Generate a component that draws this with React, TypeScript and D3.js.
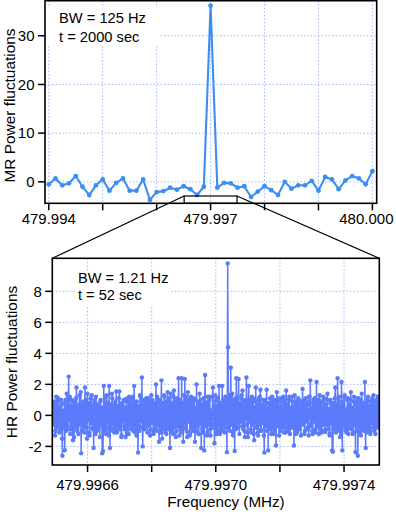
import React from "react";
import * as d3 from "d3";

// ---------- data ----------
// MR (medium resolution) spectrum: 125 Hz bins starting at 479.994 MHz
const mrStart = 479.994;
const mrStep = 0.000125;
const mrValues = [
  -0.5, 0.7, -0.7, -0.3, 1.2, -1.0, -2.7, -0.7, 0.5, -1.8,
  -0.2, 0.7, -1.8, -1.8, 0.5, -3.7, -2.1, -1.9, -1.2, -1.6,
  -0.9, -1.5, -2.7, -1.0, 36.2, -1.2, -0.2, -0.3, -1.2, -0.9,
  -3.1, -2.0, -0.9, -1.7, -2.7, 0.0, -1.4, -0.7, -0.7, 0.2,
  -1.8, 1.0, 0.5, -1.5, 0.3, 1.2, 0.7, -0.5, 2.2,
];
const mrTicks = [479.994, 479.995, 479.996, 479.997, 479.998, 479.999, 480.0];
const mrTickLabels = [479.994, 479.997, 480.0];
const mrYTicks = [0, 10, 20, 30];

// HR (high resolution) spectrum, evenly spaced bins across the zoomed window
const hrStart = 479.99649;
const hrEnd = 479.99751;
const hrValues = [
  0.1,-0.6, 0.8,-0.2, -0.4,0.9, 0.5,-1.3, -1.0,0.2, 1.2,-0.8, 0.3,0.6, -0.6,1.1, 0.9,-0.4, -1.1,0.5, 0.4,-0.9, -0.3,1.0, 0.7,-1.5, -2.6,0.3, 0.2,-0.5, -0.8,0.8, -2.25,-0.2, 1.0,-1.0, -0.5,1.4, 0.6,-0.7,
  -0.9,0.4, 2.5,-0.3, 0.1,1.2, -1.2,0.0, 0.6,-0.9, 1.0,0.5, -0.7,-1.6, 0.3,0.9, -1.4,0.2, 0.8,-0.6, -0.2,1.1, 1.8,-0.8, -1.0,0.4, 0.5,-1.2, -0.6,0.7, 1.3,-0.4, -0.1,1.5, -2.45,0.2, 0.7,-1.0, -0.4,0.6,
  0.9,-0.5, -1.1,0.3, 1.8,-0.7, 0.2,1.0, -0.8,-1.5, 1.4,0.1, -0.3,0.8, 0.6,-1.1, -1.3,0.5, 1.1,-0.2, -0.5,1.3, 0.4,-0.8, -0.9,0.6, -2.1,-0.4, 0.8,1.0, -0.2,-1.2, 1.2,0.3, -1.0,0.7, 0.3,-0.9, -0.7,0.5,
  0.6,-0.3, -1.4,0.9, 1.0,-0.6, -0.4,0.2, -2.45,0.5, -2.3,-0.8, 1.9,0.4, -0.6,1.2, 0.5,-1.0, -1.2,0.3, 1.3,-0.5, 0.0,0.8, -0.8,-1.3, 1.9,0.1, -2.1,0.6, 0.7,-0.9, -0.3,1.4, 1.1,-0.2, -1.0,0.5, 0.4,-1.1,
  -0.5,0.7, 0.9,-1.0, 1.55,0.2, -1.1,0.6, 0.3,-0.4, -0.7,1.1, 1.55,-0.9, -0.2,0.4, 0.6,-1.4, -1.3,0.8, 0.8,-0.1, -0.4,1.0, 0.2,-0.7, -0.9,0.5, -1.4,-0.3, 1.07,0.9, -0.6,-1.2, 0.5,0.3, -1.2,1.2, 0.7,-0.6,
  -0.1,0.5, 1.0,-0.9, -0.8,0.3, 0.4,1.2, -1.0,-0.4, 1.9,0.7, -0.5,-1.1, 0.8,0.2, -1.3,0.9, 0.3,-0.6, -2.4,0.4, 0.6,-1.0, -0.7,1.3, 1.2,-0.3, -0.4,0.6, 2.45,-0.8, -2.0,0.1, 0.5,1.0, -0.9,-0.5, 0.9,0.3,
  -0.3,1.1, 0.6,-0.7, -1.1,0.4, 1.1,-0.2, -0.6,0.9, 0.2,-1.3, -0.9,0.5, 1.3,-0.5, -0.2,1.0, 0.7,-1.0, -1.2,0.2, 0.4,0.8, -0.5,-0.9, 2.0,0.3, -1.0,1.2, 0.8,-0.6, -0.4,0.5, -1.7,-0.1, 1.0,-1.1, -0.8,0.7,
  2.26,-0.4, -1.5,0.8, 0.5,-0.9, -0.6,1.3, 1.2,0.0, -1.1,0.6, 0.9,-1.2, -0.3,0.4, 1.5,-0.6, -0.9,1.1, 0.6,-0.3, -2.1,0.7, 1.4,-1.0, -0.4,0.2, 0.8,-0.8, -1.2,1.2, 1.6,-0.2, -0.7,0.9, 0.3,-1.4, -1.0,0.5,
  1.1,-0.7, -0.5,0.6, 2.4,-0.2, -1.3,1.0, 0.7,-0.9, -0.2,0.4, 2.4,-1.1, -0.9,0.8, -1.7,0.3, 1.3,-0.5, 2.35,-0.1, -0.8,1.2, 0.6,-1.0, -1.4,0.7, 1.5,-0.4, -0.3,1.0, 0.9,-1.3, -1.1,0.2, 1.2,-0.8, -0.6,0.9,
  0.4,-0.6, -1.0,1.1, 1.0,-0.3, -1.7,0.5, 0.5,-1.0, 2.0,0.2, -0.7,0.9, 0.8,-1.2, -1.2,0.4, 1.4,-0.5, -0.4,1.0, -2.1,-0.2, 0.6,0.7, -0.9,-1.1, 1.1,0.3, -2.26,0.8, 2.6,-0.7, -0.5,0.5, 0.7,-1.3, -1.1,1.2,
  0.9,-0.4, -0.6,1.0, 1.2,-0.9, -1.3,0.3, 0.3,-0.6, -0.8,1.2, 1.8,-0.1, -0.2,0.6, -1.8,-0.5, 1.3,0.9, -0.7,-1.2, 0.6,0.4, -1.0,1.1, 0.4,-0.7, 1.9,0.2, -1.2,0.8, 0.8,-1.0, -0.5,0.5, 1.9,-0.3, -0.9,1.0,
  0.5,-0.8, -1.1,0.6, 1.2,-0.5, -0.4,1.0, -2.37,0.6, 9.8,4.4, 0.9,-0.8, 0.7,1.3, -1.0,0.5, 3.07,-0.4, -0.6,1.0, 1.4,-1.1, -1.3,0.3, 0.9,-0.6, -2.3,0.8, 1.1,-0.9, 2.4,0.4, -0.8,1.2, 0.6,-0.5, 2.35,-0.2,
  -1.2,0.7, 0.8,-0.3, -0.4,1.1, 1.3,-0.7, 1.6,0.2, -0.9,0.9, 0.5,-1.0, -1.4,0.4, 1.0,-0.2, 2.45,0.6, -0.6,-1.1, -1.4,0.8, 1.9,-0.4, -0.3,1.0, 0.7,-0.9, -1.1,0.3, 1.2,-0.6, -0.5,1.1, 0.9,-1.2, -1.6,0.5,
  0.4,-0.5, 1.8,0.1, -0.8,0.9, 0.6,-1.1, -1.3,0.4, 1.1,-0.6, -0.2,1.2, 1.65,-0.9, -1.0,0.3, 0.7,-0.4, -0.5,1.0, 0.3,-1.3, -2.4,0.6, 1.0,-0.2, -0.7,0.8, 1.65,-1.0, -0.3,0.5, -2.26,0.0, 0.8,-0.7, -0.9,1.1,
  0.5,-0.3, -1.2,0.8, 1.2,-0.9, -0.4,0.4, 0.8,-1.2, -1.0,1.0, 0.3,-0.5, -1.94,0.2, 1.5,-0.7, -0.6,1.1, 0.9,-0.2, -1.3,0.6, 0.6,-1.0, -0.2,0.9, 1.1,-0.6, -0.8,0.3, 0.4,1.2, -1.1,-0.4, 1.0,0.5, -0.5,-1.1,
  1.6,0.0, -0.9,0.7, 0.7,-1.0, -0.3,1.0, 1.2,-0.5, -1.2,0.4, 0.5,-0.8, -0.7,1.2, 0.9,-0.2, -0.4,0.6, -1.94,-0.6, 1.3,0.3, -0.6,-1.2, 0.8,0.9, -1.1,-0.3, 0.2,1.1, 1.0,-0.9, -0.8,0.4, 0.6,-0.5, -1.3,0.8,
  0.9,-0.6, 1.7,0.2, -0.5,1.0, 0.4,-1.2, -1.0,0.6, 1.1,-0.4, -0.3,0.9, 0.7,-0.8, -0.9,0.3, -1.3,1.2, 1.2,-0.1, 2.26,-0.7, -0.6,0.5, 0.5,-1.0, -1.2,0.8, 1.0,-0.3, -0.4,1.1, 0.8,-0.9, -1.1,0.4, 2.15,-0.5,
  -0.7,1.0, 0.6,-0.4, -1.2,0.5, 1.3,-0.8, -0.2,0.9, 0.9,-1.1, -1.0,0.2, 0.4,1.2, -0.6,-0.3, 1.1,0.6, -1.07,-0.9, 0.7,0.3, -0.4,1.0, 1.4,-0.6, -0.9,0.4, 0.3,-1.2, -1.3,0.8, 1.0,-0.2, -0.5,0.6, -2.26,-0.4,
  -2.35,0.5, 0.8,-0.9, -0.6,1.1, 1.8,-0.3, -1.1,0.7, 0.5,-1.0, 2.4,0.2, -0.8,0.9, 1.2,-0.5, -1.4,0.4, 0.6,-1.2, 2.15,0.0, -2.26,0.8, 0.9,-0.6, -0.5,1.2, 1.3,-0.8, -1.0,0.3, 0.4,-1.1, -0.7,1.0, 1.1,-0.4,
  -1.2,0.6, 0.7,-0.8, -0.3,1.0, 1.5,-0.2, -0.9,0.5, 0.4,-1.2, -1.1,0.9, 1.2,-0.5, -0.6,0.3, -2.37,0.7, 0.9,-1.0, -0.4,1.1, -2.6,-0.3, 1.1,0.6, -0.8,-1.1, 0.6,1.0, -1.3,-0.2, 1.4,0.4, -0.2,-0.9, 0.8,0.7,
  -1.0,0.4, 2.15,-0.6, -2.1,0.8, 0.5,-1.1, -0.7,1.0, 1.2,-0.3, -0.9,0.6, 0.3,-1.0, -1.2,0.9, 0.9,-0.5, -0.4,1.1, 0.7,-0.8, 1.3,0.2, -1.0,0.9, 0.4,-1.2, -0.6,0.5, 1.0,-0.7, -0.8,1.2, 1.2,-0.4, -0.7,0.3,
];
const hrTicks = [479.9966, 479.9968, 479.997, 479.9972, 479.9974];
const hrTickLabels = [479.9966, 479.997, 479.9974];
const hrYTicks = [-2, 0, 2, 4, 6, 8];

// zoomed region marked on the MR plot
const zoomBox = [479.99651, 479.99749];
const zoomBoxTop = -2.9;

const FONT = "'Liberation Sans', Arial, sans-serif";
const MR_COLOR = "#3d8ef2";
const HR_COLOR = "#5b7bfb";
const GRID = "#a6b4ff";

type PanelProps = {
  x: d3.ScaleLinear<number, number>;
  y: d3.ScaleLinear<number, number>;
  xTicks: number[];
  xLabels: number[];
  yTicks: number[];
  fmt: (v: number) => string;
  labelOffset: number;
};

function Frame({ x, y, xTicks, xLabels, yTicks, fmt, labelOffset }: PanelProps) {
  const [x0, x1] = x.range();
  const [y0, y1] = y.range();
  return (
    <g>
      {xTicks.map((t) => (
        <line key={"gx" + t} x1={x(t)} x2={x(t)} y1={y1} y2={y0} stroke={GRID} strokeWidth={1} strokeDasharray="1.5,2" />
      ))}
      {yTicks.map((t) => (
        <line key={"gy" + t} x1={x0} x2={x1} y1={y(t)} y2={y(t)} stroke={GRID} strokeWidth={1} strokeDasharray="1.5,2" />
      ))}
      {xTicks.map((t) => (
        <line key={"tx" + t} x1={x(t)} x2={x(t)} y1={y0} y2={y0 + 7} stroke="#000" strokeWidth={1.5} />
      ))}
      {xLabels.map((t) => {
        const s = fmt(t);
        const half = (s.length * 7.6) / 2;
        const px = x(t);
        const overflow = px + half > 393.5;
        return (
          <text
            key={"lx" + t}
            x={overflow ? 393.5 : px}
            y={y0 + labelOffset}
            textAnchor={overflow ? "end" : "middle"}
            fontSize={15}
            fontFamily={FONT}
            fill="#000"
          >
            {s}
          </text>
        );
      })}
      {yTicks.map((t) => (
        <line key={"ty" + t} x1={x0 - 7} x2={x0} y1={y(t)} y2={y(t)} stroke="#000" strokeWidth={1.5} />
      ))}
      {yTicks.map((t) => (
        <text key={"ly" + t} x={x0 - 10.5} y={y(t) + 5.3} textAnchor="end" fontSize={15} fontFamily={FONT} fill="#000">
          {String(t)}
        </text>
      ))}
    </g>
  );
}

export default function App() {
  const mrX = d3.scaleLinear().domain([479.99393, 480.00008]).range([45, 376.7]);
  const mrY = d3.scaleLinear().domain([-4.4, 37.2]).range([203.3, 0.7]);
  const mrData = mrValues.map((v, i) => [mrStart + i * mrStep, v] as [number, number]);
  const mrLine = d3
    .line<[number, number]>()
    .x((d) => mrX(d[0]))
    .y((d) => mrY(d[1]));

  const hrX = d3.scaleLinear().domain([hrStart, hrEnd]).range([52.3, 379.3]);
  const hrY = d3.scaleLinear().domain([-3.2, 10.13]).range([465, 258.3]);
  const hrStep = (hrEnd - hrStart) / (hrValues.length - 1);
  const hrData = hrValues.map((v, i) => [hrStart + i * hrStep, v] as [number, number]);
  const hrLine = d3
    .line<[number, number]>()
    .x((d) => hrX(d[0]))
    .y((d) => hrY(d[1]));

  const bx0 = mrX(zoomBox[0]);
  const bx1 = mrX(zoomBox[1]);
  const by = mrY(zoomBoxTop);
  const mrBottom = mrY.range()[0];

  return (
    <svg width={396} height={512} style={{ position: "absolute", left: 0, top: 0, background: "#fff" }}>
      <rect x={0} y={0} width={396} height={512} fill="#fff" />
      <defs>
        <clipPath id="clipMR">
          <rect x={45} y={0.7} width={331.7} height={202.6} />
        </clipPath>
        <clipPath id="clipHR">
          <rect x={52.3} y={258.3} width={327} height={206.7} />
        </clipPath>
      </defs>

      {/* ---------- MR panel ---------- */}
      <Frame x={mrX} y={mrY} xTicks={mrTicks} xLabels={mrTickLabels} yTicks={mrYTicks} fmt={(v) => v.toFixed(3)} labelOffset={20.7} />
      <rect x={45.8} y={8} width={113} height={38} fill="#fff" />
      <text x={59} y={23.3} fontSize={14.7} fontFamily={FONT} fill="#000">BW = 125 Hz</text>
      <text x={59} y={41.7} fontSize={14.7} fontFamily={FONT} fill="#000">t = 2000 sec</text>
      <g clipPath="url(#clipMR)">
        <path d={mrLine(mrData) || ""} fill="none" stroke={MR_COLOR} strokeWidth={2.1} />
        {mrData.map((d, i) => (
          <circle key={i} cx={mrX(d[0])} cy={mrY(d[1])} r={2.4} fill={MR_COLOR} />
        ))}
      </g>
      <rect x={45} y={0.7} width={331.7} height={202.6} fill="none" stroke="#000" strokeWidth={1.6} />
      <text
        transform={`translate(15,105.5) rotate(-90)`}
        textAnchor="middle"
        fontSize={15.4}
        fontFamily={FONT}
        fill="#000"
      >
        MR Power fluctuations
      </text>

      {/* zoom indicator */}
      <rect x={bx0} y={by} width={bx1 - bx0} height={mrBottom - by} fill="none" stroke="#000" strokeWidth={1.2} />
      <line x1={bx0} y1={by} x2={52.3} y2={258.3} stroke="#000" strokeWidth={1.2} />
      <line x1={bx1} y1={by} x2={379.3} y2={258.3} stroke="#000" strokeWidth={1.2} />

      {/* ---------- HR panel ---------- */}
      <Frame x={hrX} y={hrY} xTicks={hrTicks} xLabels={hrTickLabels} yTicks={hrYTicks} fmt={(v) => v.toFixed(4)} labelOffset={24.6} />
      <rect x={77} y={270} width={93} height={35} fill="#fff" />
      <text x={78} y={283.3} fontSize={14.6} fontFamily={FONT} fill="#000">BW = 1.21 Hz</text>
      <text x={78} y={300.2} fontSize={14.6} fontFamily={FONT} fill="#000">t = 52 sec</text>
      <g clipPath="url(#clipHR)">
        <path d={hrLine(hrData) || ""} fill="none" stroke={HR_COLOR} strokeWidth={1.5} />
        {hrData.map((d, i) => (
          <circle key={i} cx={hrX(d[0])} cy={hrY(d[1])} r={2.2} fill={HR_COLOR} />
        ))}
      </g>
      <rect x={52.3} y={258.3} width={327} height={206.7} fill="none" stroke="#000" strokeWidth={1.6} />
      <text
        transform={`translate(16.5,362) rotate(-90)`}
        textAnchor="middle"
        fontSize={15.4}
        fontFamily={FONT}
        fill="#000"
      >
        HR Power fluctuations
      </text>
      <text x={226} y={507} textAnchor="middle" fontSize={15.2} fontFamily={FONT} fill="#000">
        Frequency (MHz)
      </text>
    </svg>
  );
}
